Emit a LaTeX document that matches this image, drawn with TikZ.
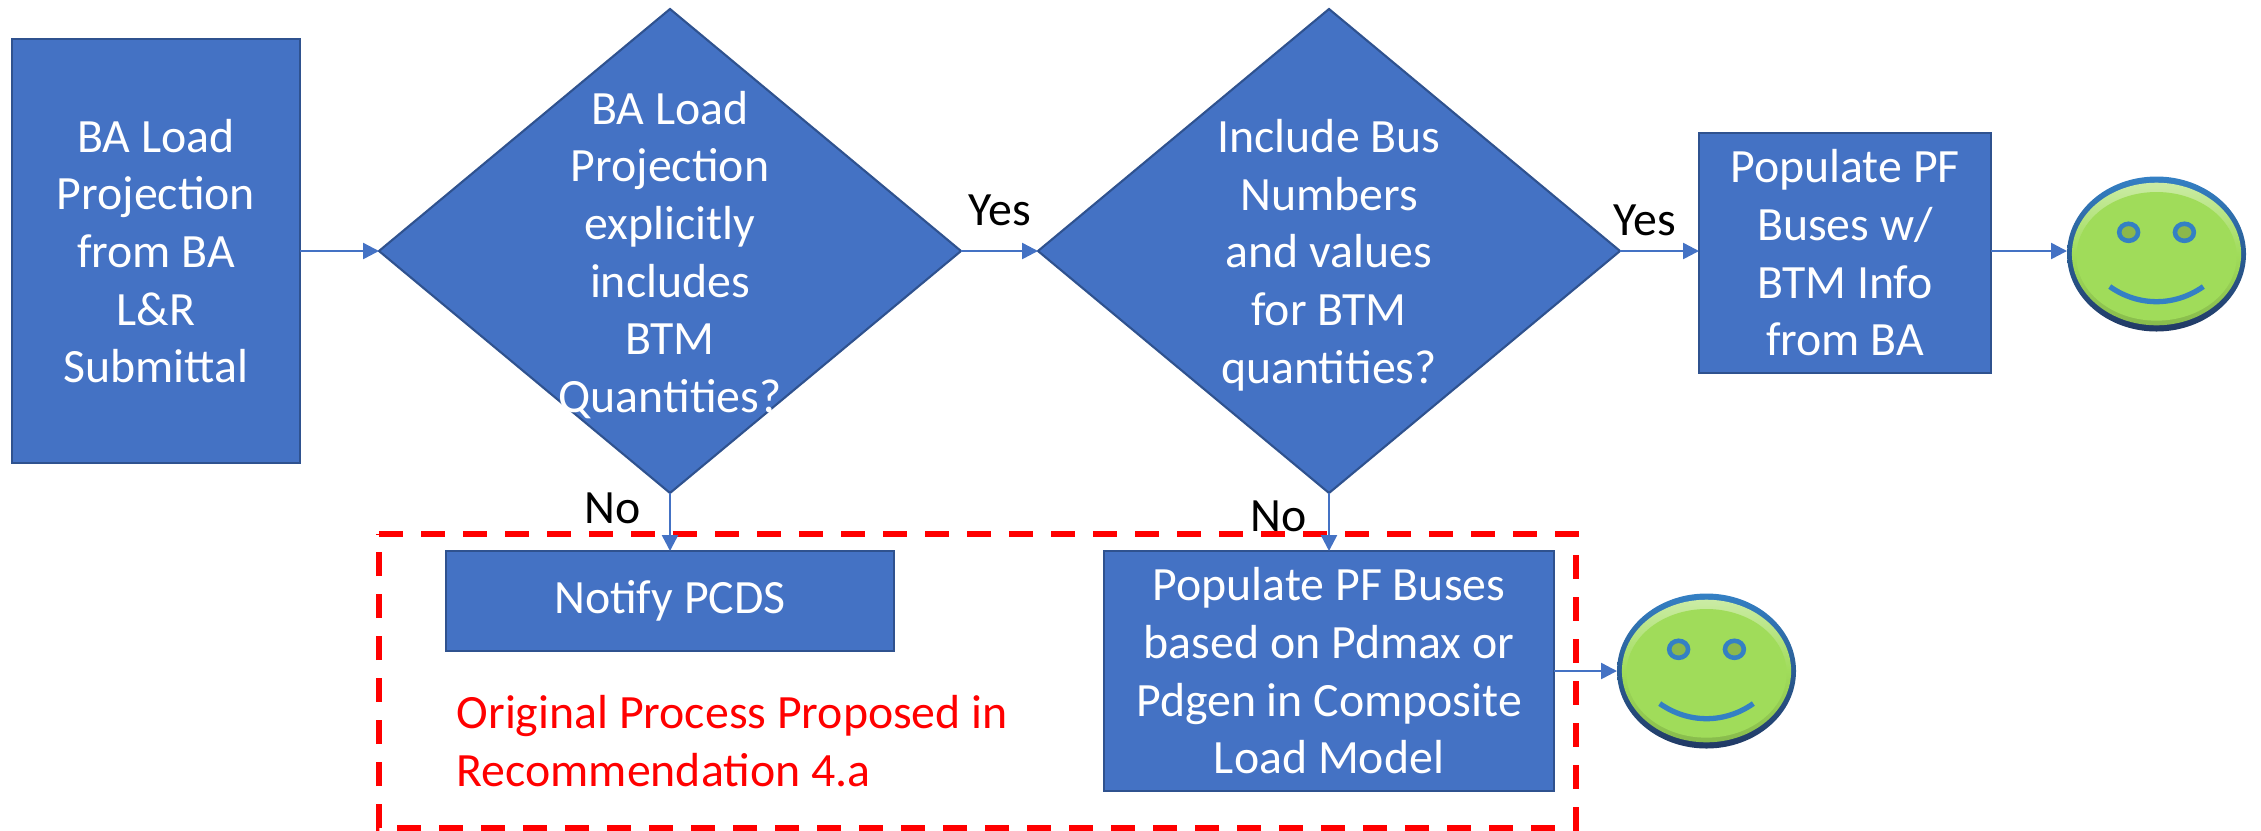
\documentclass[tikz,border=0pt]{standalone}
\usepackage{fontspec}
\setmainfont{Carlito}
\usepackage{tikz}
\usetikzlibrary{arrows.meta,shapes,positioning}
\definecolor{flowblue}{RGB}{68,114,196}
\definecolor{flowedge}{RGB}{47,82,143}
\definecolor{smilegreen}{RGB}{160,220,90}
\definecolor{smileeye}{RGB}{140,184,76}
\definecolor{smileblue}{RGB}{52,128,196}
\tikzset{every node/.append style={font=\fontsize{13.6}{16.4}\selectfont}}
\tikzstyle{arrow} = [line width=0.7pt,-{Triangle[length=0.16cm,width=0.16cm]},color=flowblue]
\tikzstyle{flowbox} = [rectangle, inner sep=0, outer sep=0, align=center, draw=flowedge, fill=flowblue, line width=0.7pt, text=white]
\tikzstyle{decbox} = [diamond, inner sep=0, outer sep=0, minimum width=5.82cm, minimum height=4.84cm, draw=flowedge, fill=flowblue, line width=0.6pt]
\tikzstyle{dectext} = [align=center, text=white, inner sep=0, yshift=-0.04cm]
\tikzstyle{smile} = [ellipse, inner sep=0, outer sep=0, minimum width=1.79cm, minimum height=1.55cm, shade, top color=smileblue, bottom color=flowedge!70!black]
\tikzstyle{answer} = [text=black, inner sep=0]

\begin{document}
\begin{tikzpicture}
\useasboundingbox (0,0) rectangle (22.61,8.30);

% Dashed frame
\draw[red, line width=1.9pt, dash pattern=on 0.24cm off 0.18cm] (3.79,2.96) -- (15.76,2.96) -- (15.76,0.02) -- (3.79,0.02) -- cycle;

% Top row
\node[flowbox, minimum width=2.88cm, minimum height=4.24cm] (load) at (1.56,5.79) {BA Load\\Projection\\from BA\\L\&R\\Submittal};
\node[decbox, right=0.79cm of load, label={[dectext]center:{BA Load\\Projection\\explicitly\\includes\\BTM\\Quantities?}}] (explicit) {};
\node[decbox, right=0.77cm of explicit, label={[dectext]center:{Include Bus\\Numbers\\and values\\for BTM\\quantities?}}] (busnum) {};
\node[flowbox, right=0.79cm of busnum, yshift=-0.02cm, minimum width=2.92cm, minimum height=2.40cm] (popinfo) {Populate PF\\Buses w/\\BTM Info\\from BA};
\node[smile, right=0.76cm of popinfo, yshift=-0.01cm] (smileA) {};

% Bottom row
\node[flowbox, below=0.58cm of explicit, minimum width=4.48cm, minimum height=1.00cm] (notify) {Notify PCDS};
\node[flowbox, below=0.58cm of busnum, minimum width=4.50cm, minimum height=2.40cm] (popmodel) {Populate PF Buses\\based on Pdmax or\\Pdgen in Composite\\Load Model};
\node[smile, right=0.63cm of popmodel] (smileB) {};
\node[text=red, inner sep=0, align=left, below right=0.44cm and 0.10cm of notify.south west] (orig) {Original Process Proposed in\\Recommendation 4.a};

% Smiley faces
\foreach \s in {smileA,smileB} {
  \begin{scope}[shift={(\s.center)}, x=0.9cm, y=0.775cm]
    \shade[top color=smilegreen!55!white, bottom color=smilegreen!85!black, middle color=smilegreen] (0,0) ellipse (0.94 and 0.92);
    \fill[smilegreen] (0,-0.03) ellipse (0.89 and 0.83);
    \draw[smileblue, line width=1.3pt, fill=smileeye] (-0.31,0.28) ellipse (0.105 and 0.11);
    \draw[smileblue, line width=1.3pt, fill=smileeye] (0.31,0.28) ellipse (0.105 and 0.11);
    \draw[smileblue, line width=1.5pt] (-0.52,-0.42) .. controls (-0.2,-0.68) and (0.2,-0.68) .. (0.52,-0.42);
  \end{scope}
}

% Arrows
\draw[arrow] (load) -- (explicit);
\draw[arrow] (explicit) -- node[answer, above, yshift=0.24cm] {Yes} (busnum);
\draw[arrow] (busnum.east) -- node[answer, above, xshift=-0.15cm, yshift=0.14cm] {Yes} (busnum.east -| popinfo.west);
\draw[arrow] (busnum.east -| popinfo.east) -- (busnum.east -| smileA.west);
\draw[arrow] (explicit) -- node[answer, left, xshift=-0.28cm, yshift=0.135cm] {No} (notify);
\draw[arrow] (busnum) -- node[answer, left, xshift=-0.21cm, yshift=0.06cm] {No} (popmodel);
\draw[arrow] (popmodel) -- (smileB);
\end{tikzpicture}
\end{document}
